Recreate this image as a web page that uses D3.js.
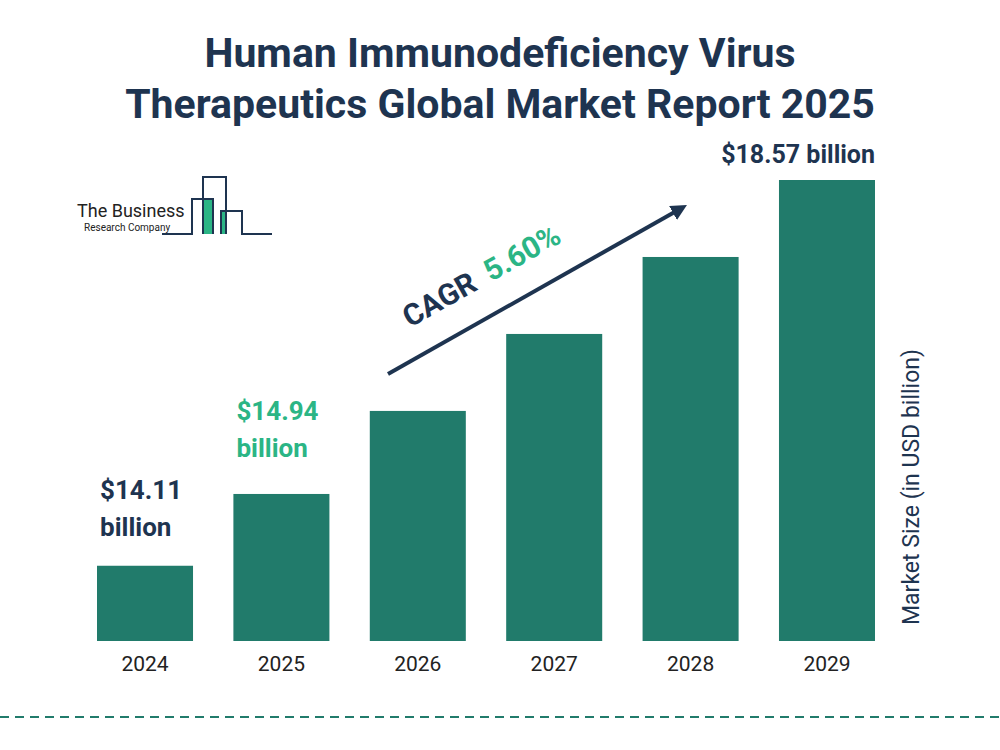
<!DOCTYPE html>
<html><head><meta charset="utf-8">
<script src="https://cdn.jsdelivr.net/npm/d3@7"></script>
<style>body{margin:0;background:#fff}</style>
</head><body>
<svg id="chart" width="1000" height="750"></svg>
<script>
// Chart data
var years = ["2024", "2025", "2026", "2027", "2028", "2029"];
var values = [14.11, 14.94, 15.90, 16.79, 17.68, 18.57];

var svg = d3.select("#chart");
var font = "Roboto, sans-serif";
var dark = "#1e3450", green = "#217b6b", light = "#2bb585";

// scales (baseline is not zero, as in the original)
var x = d3.scaleBand().domain(years).range([97, 875]).paddingInner(0.296).paddingOuter(0);
var y = d3.scaleLinear().domain([13.24, 18.57]).range([641, 180]);

// title
svg.append("text").attr("x", 500).attr("y", 67).attr("text-anchor", "middle")
  .attr("font-family", font).attr("font-weight", 700).attr("font-size", 41).attr("fill", dark)
  .text("Human Immunodeficiency Virus");
svg.append("text").attr("x", 500).attr("y", 118).attr("text-anchor", "middle")
  .attr("font-family", font).attr("font-weight", 700).attr("font-size", 41).attr("fill", dark)
  .text("Therapeutics Global Market Report 2025");

// bars
svg.selectAll("rect.bar").data(values).enter().append("rect")
  .attr("class", "bar")
  .attr("x", (d, i) => x(years[i]))
  .attr("y", d => y(d))
  .attr("width", x.bandwidth())
  .attr("height", d => 641 - y(d))
  .attr("fill", green);

// x axis labels
svg.selectAll("text.year").data(years).enter().append("text")
  .attr("x", d => x(d) + x.bandwidth() / 2).attr("y", 671)
  .attr("text-anchor", "middle").attr("font-family", font).attr("font-size", 21).attr("fill", "#222")
  .text(d => d);

// value labels
function label(i, lines, color, yy) {
  var t = svg.append("text").attr("y", yy)
    .attr("font-family", font).attr("font-weight", 700).attr("font-size", 26).attr("fill", color);
  lines.forEach((l, k) => t.append("tspan").attr("x", x(years[i]) + 3).attr("dy", k ? 37 : 0).text(l));
}
label(0, ["$" + values[0], "billion"], dark, y(values[0]) - 67);
label(1, ["$" + values[1], "billion"], light, y(values[1]) - 74);
svg.append("text").attr("x", x("2029") + x.bandwidth()).attr("y", 163)
  .attr("text-anchor", "end").attr("font-family", font).attr("font-weight", 700)
  .attr("font-size", 25).attr("fill", dark).text("$" + values[5] + " billion");

// y axis title
svg.append("text").attr("transform", "translate(919,487) rotate(-90)")
  .attr("text-anchor", "middle").attr("font-family", font).attr("font-size", 23).attr("fill", dark)
  .text("Market Size (in USD billion)");

// CAGR arrow
svg.append("defs").append("marker").attr("id", "ah").attr("viewBox", "0 0 10 10")
  .attr("refX", 5).attr("refY", 5).attr("markerWidth", 4).attr("markerHeight", 4).attr("orient", "auto")
  .append("path").attr("d", "M0,0 L10,5 L0,10 z").attr("fill", dark);
svg.append("line").attr("x1", 388).attr("y1", 374).attr("x2", 680).attr("y2", 209)
  .attr("stroke", dark).attr("stroke-width", 4).attr("marker-end", "url(#ah)");
var c = svg.append("text").attr("transform", "translate(410,328) rotate(-29.5)")
  .attr("font-family", font).attr("font-weight", 700).attr("font-size", 30);
c.append("tspan").attr("fill", dark).text("CAGR");
c.append("tspan").attr("fill", light).attr("dx", 14).text("5.60%");

// logo
var lg = svg.append("g");
lg.append("rect").attr("x", 203).attr("y", 199).attr("width", 10).attr("height", 35).attr("fill", light);
lg.append("rect").attr("x", 221).attr("y", 211).attr("width", 5).attr("height", 23).attr("fill", light);
lg.append("path").attr("d", "M162,234 H192 V199 H213 V234 M203,234 V177 H226 V234 M221,234 V211 H242 V234 H272")
  .attr("fill", "none").attr("stroke", dark).attr("stroke-width", 2);
lg.append("text").attr("x", 77).attr("y", 217).attr("font-family", font).attr("font-size", 18)
  .attr("fill", "#222").text("The Business");
lg.append("text").attr("x", 84).attr("y", 231).attr("font-family", font).attr("font-size", 10)
  .attr("fill", "#222").text("Research Company");

// bottom dashed line
svg.append("line").attr("x1", 0).attr("x2", 1000).attr("y1", 717).attr("y2", 717)
  .attr("stroke", green).attr("stroke-width", 2).attr("stroke-dasharray", "9,6");
</script>
</body></html>
